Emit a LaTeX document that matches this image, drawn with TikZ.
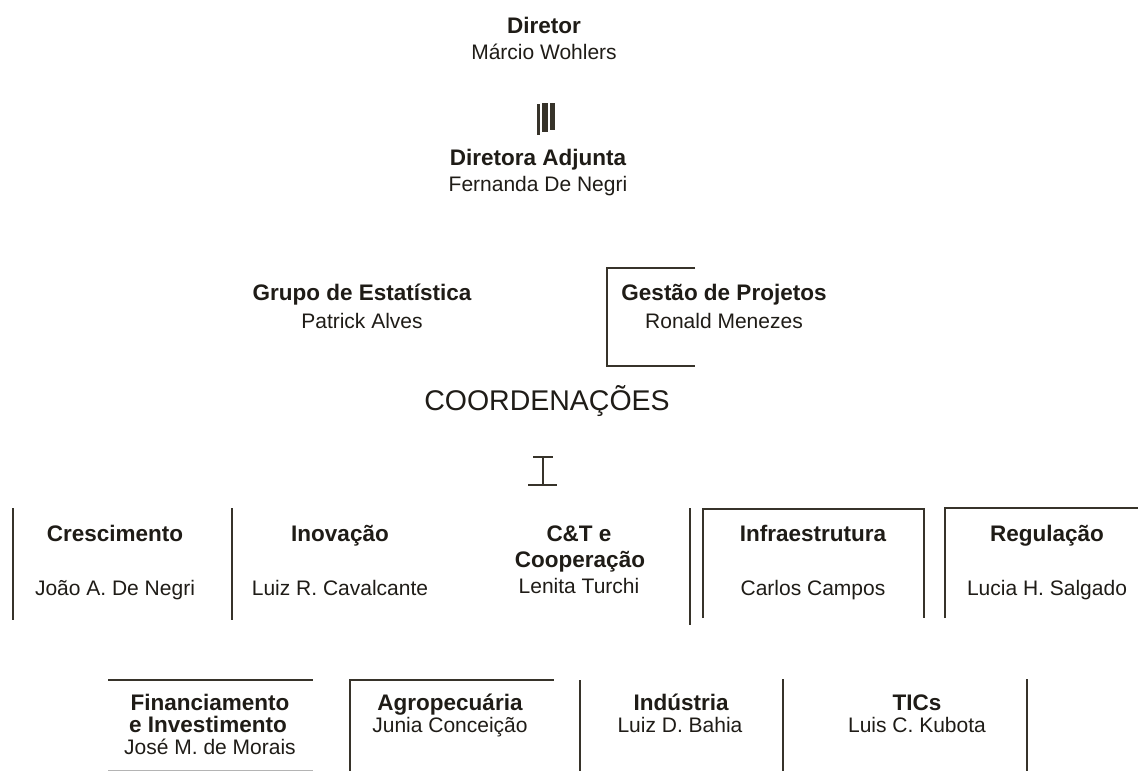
\documentclass[tikz,border=0pt]{standalone}
\usepackage{fontspec}
\setmainfont{Liberation Sans}
\definecolor{ink}{HTML}{1F1C17}
\definecolor{rulec}{HTML}{37332A}
\definecolor{grayrule}{HTML}{B4B4B4}
\begin{document}
\begin{tikzpicture}[x=1pt,y=-1pt,
  hd/.style={font=\fontsize{22.5}{27}\selectfont\bfseries, text=ink, inner sep=0pt, anchor=base},
  nm/.style={font=\fontsize{21}{25}\selectfont, text=ink, inner sep=0pt, anchor=base},
  big/.style={font=\fontsize{28.5}{34}\selectfont, text=ink, inner sep=0pt, anchor=base},
  rule/.style={draw=rulec, line width=1.6pt},
  softrule/.style={draw=grayrule, line width=1pt}]
\useasboundingbox (0,0) rectangle (1138,771);
\fill[white] (0,0) rectangle (1138,771);

% --- top ---
\node[hd] (dir) at (544,33) {Diretor};
\node[nm] (dirn) at (544,59.5) {Márcio Wohlers};
\fill[rulec] (537,104) rectangle (539.5,135);
\fill[rulec] (542,103) rectangle (548,132);
\fill[rulec] (550,103) rectangle (555,130);
\node[hd] (adj) at (538,165) {Diretora Adjunta};
\node[nm] (adjn) at (538,191.5) {Fernanda De Negri};

% --- middle ---
\node[hd] (est) at (362,300) {Grupo de Estatística};
\node[nm] (estn) at (362,328) {Patrick Alves};
\coordinate (gpa) at (695,268);
\coordinate (gpb) at (607,268);
\coordinate (gpc) at (607,366);
\coordinate (gpd) at (695,366);
\draw[rule] (gpa) -- (gpb) -- (gpc) -- (gpd);
\node[hd] (ges) at (724,300) {Gestão de Projetos};
\node[nm] (gesn) at (724,328) {Ronald Menezes};
\node[big] (coord) at (547,410) {COORDENAÇÕES};
\draw[rule] (533,457) -- (553,457);
\draw[rule] (543,457) -- (543,485);
\draw[rule] (528,485) -- (557,485);

% --- row 1 ---
\draw[rule] (13,508) -- (13,620);
\draw[rule] (232,508) -- (232,620);
\draw[rule] (690,508) -- (690,625);
\draw[rule] (703,618) -- (703,509) -- (924,509) -- (924,618);
\draw[rule] (945,618) -- (945,508) -- (1140,508);

\node[hd] (cre) at (115,541) {Crescimento};
\node[nm] (cren) at (115,595) {João A. De Negri};
\node[hd] (ino) at (340,541) {Inovação};
\node[nm] (inon) at (340,595) {Luiz R. Cavalcante};
\node[hd] (ct1) at (579,541) {C\&T e};
\node[hd] (ct2) at (580,567) {Cooperação};
\node[nm] (ctn) at (579,593) {Lenita Turchi};
\node[hd] (inf) at (813,541) {Infraestrutura};
\node[nm] (infn) at (813,595) {Carlos Campos};
\node[hd] (reg) at (1047,541) {Regulação};
\node[nm] (regn) at (1047,595) {Lucia H. Salgado};

% --- row 2 ---
\draw[rule] (108,680) -- (313,680);
\draw[softrule] (108,770) -- (313,770);
\draw[rule] (350,773) -- (350,680) -- (554,680);
\draw[rule] (580,680) -- (580,773);
\draw[rule] (783,679) -- (783,773);
\draw[rule] (1027,679) -- (1027,773);

\node[hd] (fin1) at (210,710) {Financiamento};
\node[hd] (fin2) at (208,732) {e Investimento};
\node[nm] (finn) at (210,754) {José M. de Morais};
\node[hd] (agr) at (450,710) {Agropecuária};
\node[nm] (agrn) at (450,732) {Junia Conceição};
\node[hd] (ind) at (681,710) {Indústria};
\node[nm] (indn) at (680,732) {Luiz D. Bahia};
\node[hd] (tic) at (917,710) {TICs};
\node[nm] (ticn) at (917,732) {Luis C. Kubota};
\end{tikzpicture}
\end{document}
